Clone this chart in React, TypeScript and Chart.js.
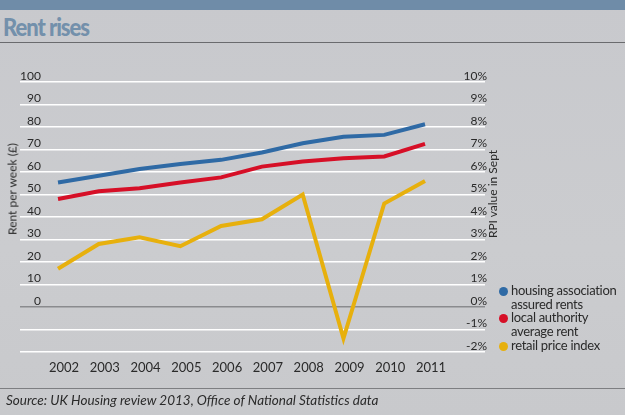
import React, { useEffect, useRef } from 'react';
import { Chart, registerables } from 'chart.js';

Chart.register(...registerables);

// ---- data ----
const years = [2002, 2003, 2004, 2005, 2006, 2007, 2008, 2009, 2010, 2011];
const yearLabels = ['2002', '2003', '2004', '2005', '2006', '2007', '2008', '2009', '2010', '2011'];
const housingAssociation = [55.3, 58.3, 61.3, 63.6, 65.4, 68.7, 72.8, 75.7, 76.5, 81.2];
const localAuthority = [48.0, 51.4, 52.8, 55.3, 57.6, 62.4, 64.7, 66.1, 66.9, 72.5];
const retailPriceIndex = [1.7, 2.8, 3.1, 2.7, 3.6, 3.9, 5.0, -1.4, 4.6, 5.6];
const seriesNames = ['housing association assured rents', 'local authority average rent', 'retail price index'];
const legendLines = [['housing association', 'assured rents'], ['local authority', 'average rent'], ['retail price index']];

const BLUE = '#2f6aa5';
const RED = '#d60f27';
const YELLOW = '#e7b00d';
const FONT = 'Lato, "Open Sans", sans-serif';

export default function App() {
  const ref = useRef<HTMLCanvasElement | null>(null);

  useEffect(() => {
    if (!ref.current) return;
    const chart = new Chart(ref.current, {
      type: 'line',
      data: {
        datasets: [
          {
            label: seriesNames[0],
            data: years.map((y, i) => ({ x: y, y: housingAssociation[i] })),
            borderColor: BLUE,
            borderWidth: 4,
            pointRadius: 0,
            yAxisID: 'y',
            tension: 0,
          },
          {
            label: seriesNames[1],
            data: years.map((y, i) => ({ x: y, y: localAuthority[i] })),
            borderColor: RED,
            borderWidth: 4,
            pointRadius: 0,
            yAxisID: 'y',
            tension: 0,
          },
          {
            label: seriesNames[2],
            data: years.map((y, i) => ({ x: y, y: retailPriceIndex[i] })),
            borderColor: YELLOW,
            borderWidth: 4,
            pointRadius: 0,
            yAxisID: 'y1',
            tension: 0,
          },
        ],
      },
      options: {
        responsive: false,
        animation: false,
        layout: { padding: { top: 82, right: 140, left: 20, bottom: 0 } },
        plugins: { legend: { display: false }, tooltip: { enabled: false } },
        scales: {
          x: {
            type: 'linear',
            min: 2001.068,
            max: 2012.471,
            grid: { display: false, drawTicks: false },
            border: { display: false },
            afterBuildTicks: (scale: any) => {
              scale.ticks = years.map((v) => ({ value: v }));
            },
            afterFit: (scale: any) => {
              scale.height = 63;
            },
            ticks: {
              autoSkip: false,
              maxRotation: 0,
              labelOffset: 6,
              padding: 8,
              color: '#2a2a2a',
              font: { family: FONT, size: 13 },
              callback: (_v: any, i: number) => yearLabels[i],
            },
          },
          y: {
            position: 'left',
            min: -20,
            max: 100,
            afterFit: (scale: any) => {
              scale.width = 0;
            },
            grid: {
              drawTicks: false,
              lineWidth: 1.6,
              color: (ctx: any) => (ctx.tick && ctx.tick.value === 0 ? '#8a8b8e' : '#ffffff'),
            },
            border: { display: false },
            ticks: {
              stepSize: 10,
              mirror: true,
              crossAlign: 'far',
              padding: 0,
              labelOffset: -6,
              color: '#2a2a2a',
              font: { family: FONT, size: 12 },
              callback: (v: any) => (v >= 0 ? String(v) : ''),
            },
          },
          y1: {
            position: 'right',
            min: -2,
            max: 10,
            afterFit: (scale: any) => {
              scale.width = 0;
            },
            grid: { display: false, drawTicks: false },
            border: { display: false },
            ticks: {
              stepSize: 1,
              mirror: true,
              crossAlign: 'near',
              padding: 2,
              labelOffset: -6,
              color: '#2a2a2a',
              font: { family: FONT, size: 12 },
              callback: (v: any) => v + '%',
            },
          },
        },
      },
    } as any);
    return () => chart.destroy();
  }, []);

  const legendColors = [BLUE, RED, YELLOW];
  const legendTops = [284, 311, 339];

  return (
    <div
      style={{
        position: 'absolute',
        left: 0,
        top: 0,
        width: 625,
        height: 415,
        overflow: 'hidden',
        background: 'linear-gradient(180deg, #c8c9cd 0%, #cbcccf 60%, #c8c9cc 100%)',
        fontFamily: FONT,
      }}
    >
      <div style={{ position: 'absolute', left: 0, top: 0, width: 625, height: 10, background: '#6f8ca8' }} />
      <div
        style={{
          position: 'absolute',
          left: 3,
          top: 10,
          fontSize: 25,
          fontWeight: 900,
          letterSpacing: -1.2,
          color: '#7390ab',
          lineHeight: '32px',
          transform: 'scaleX(0.88)',
          transformOrigin: 'left center',
        }}
      >
        Rent rises
      </div>
      <div style={{ position: 'absolute', left: 0, top: 42, width: 625, height: 1, background: '#6a6b6e' }} />
      <canvas ref={ref} width={625} height={415} style={{ position: 'absolute', left: 0, top: 0, width: 625, height: 415 }} />
      <div
        style={{
          position: 'absolute',
          left: 12,
          top: 189,
          transform: 'translate(-50%, -50%) rotate(-90deg)',
          whiteSpace: 'nowrap',
          fontSize: 12,
          color: '#2a2a2a',
        }}
      >
        Rent per week (£)
      </div>
      <div
        style={{
          position: 'absolute',
          left: 492,
          top: 194,
          transform: 'translate(-50%, -50%) rotate(-90deg)',
          whiteSpace: 'nowrap',
          fontSize: 12,
          color: '#2a2a2a',
        }}
      >
        RPI value in Sept
      </div>
      {legendLines.map((lines, i) => (
        <div key={i} style={{ position: 'absolute', left: 499, top: legendTops[i] }}>
          <div
            style={{
              position: 'absolute',
              left: 0,
              top: 3,
              width: 9,
              height: 9,
              borderRadius: '50%',
              background: legendColors[i],
            }}
          />
          <div
            style={{
              position: 'absolute',
              left: 12,
              top: 0,
              whiteSpace: 'nowrap',
              fontSize: 13,
              lineHeight: '13.5px',
              letterSpacing: -0.3,
              color: '#2a2a2a',
            }}
          >
            {lines.map((l, j) => (
              <div key={j}>{l}</div>
            ))}
          </div>
        </div>
      ))}
      <div style={{ position: 'absolute', left: 0, top: 388, width: 625, height: 1, background: '#7d7e81' }} />
      <div
        style={{
          position: 'absolute',
          left: 6,
          top: 392,
          fontSize: 13.5,
          fontStyle: 'italic',
          color: '#2a2a2a',
          whiteSpace: 'nowrap',
        }}
      >
        Source: UK Housing review 2013, Office of National Statistics data
      </div>
    </div>
  );
}
